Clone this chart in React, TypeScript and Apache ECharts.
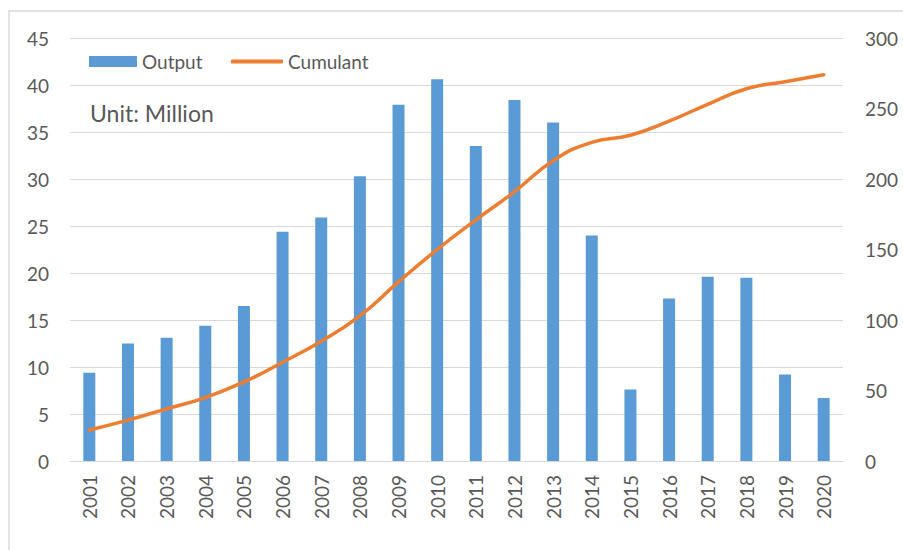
import React, { useEffect, useRef } from "react";
import * as echarts from "echarts";

const years = ["2001","2002","2003","2004","2005","2006","2007","2008","2009","2010","2011","2012","2013","2014","2015","2016","2017","2018","2019","2020"];
const output = [9.4, 12.5, 13.1, 14.4, 16.5, 24.4, 25.9, 30.3, 37.9, 40.6, 33.5, 38.4, 36.0, 24.0, 7.6, 17.3, 19.6, 19.5, 9.2, 6.7];
const cumulant = [22, 29, 37, 45, 56, 70, 85, 103, 127, 150, 171, 191, 213, 226, 231, 241, 253, 264, 269, 274];
const leftTicks = { min: 0, max: 45, interval: 5 };
const rightTicks = { min: 0, max: 300, interval: 50 };

const FONT = "Lato, 'Noto Sans', sans-serif";
const TXT = "#595959";

export default function App() {
  const ref = useRef<HTMLDivElement>(null);
  useEffect(() => {
    if (!ref.current) return;
    const chart = echarts.init(ref.current, null, { renderer: "svg" });
    chart.setOption({
      animation: false,
      backgroundColor: "#ffffff",
      textStyle: { fontFamily: FONT },
      grid: { left: 70, right: 60, top: 38, bottom: 89 },
      legend: [
        {
          left: 89,
          top: 52,
          height: 20,
          padding: 0,
          itemWidth: 48,
          itemHeight: 11,
          textStyle: { color: TXT, fontSize: 19, fontFamily: FONT },
          data: [{ name: "Output", icon: "rect" }],
        },
        {
          left: 231,
          top: 52,
          height: 20,
          padding: 0,
          itemWidth: 52,
          itemHeight: 4,
          textStyle: { color: TXT, fontSize: 19, fontFamily: FONT },
          data: [{ name: "Cumulant", icon: "roundRect" }],
        },
      ],
      graphic: [
        {
          type: "rect",
          shape: { x: 9, y: 11, width: 1000, height: 700 },
          style: { fill: "none", stroke: "#d9d9d9", lineWidth: 1.5 },
          silent: true,
        },
        {
          type: "text",
          left: 90,
          top: 101,
          style: { text: "Unit: Million", fill: TXT, fontSize: 23, fontFamily: FONT },
        },
      ],
      xAxis: {
        type: "category",
        data: years,
        axisLine: { lineStyle: { color: "#d9d9d9", width: 1 } },
        axisTick: { show: false },
        axisLabel: { rotate: 90, color: TXT, fontSize: 19, fontFamily: FONT, margin: 14 },
      },
      yAxis: [
        {
          type: "value",
          ...leftTicks,
          axisLine: { show: false },
          axisTick: { show: false },
          splitLine: { lineStyle: { color: "#d9d9d9", width: 1 } },
          axisLabel: { color: TXT, fontSize: 19, fontFamily: FONT, margin: 21 },
        },
        {
          type: "value",
          ...rightTicks,
          axisLine: { show: false },
          axisTick: { show: false },
          splitLine: { show: false },
          axisLabel: { color: TXT, fontSize: 19, fontFamily: FONT, margin: 22 },
        },
      ],
      series: [
        {
          name: "Output",
          type: "bar",
          data: output,
          barWidth: 12,
          itemStyle: { color: "#5B9BD5" },
        },
        {
          name: "Cumulant",
          type: "line",
          yAxisIndex: 1,
          data: cumulant,
          smooth: true,
          symbol: "none",
          lineStyle: { color: "#ED7D31", width: 3.5, cap: "round" },
          itemStyle: { color: "#ED7D31" },
        },
      ],
    });
    return () => chart.dispose();
  }, []);
  return (
    <div
      ref={ref}
      style={{ position: "fixed", left: 0, top: 0, width: 903, height: 550 }}
    />
  );
}
